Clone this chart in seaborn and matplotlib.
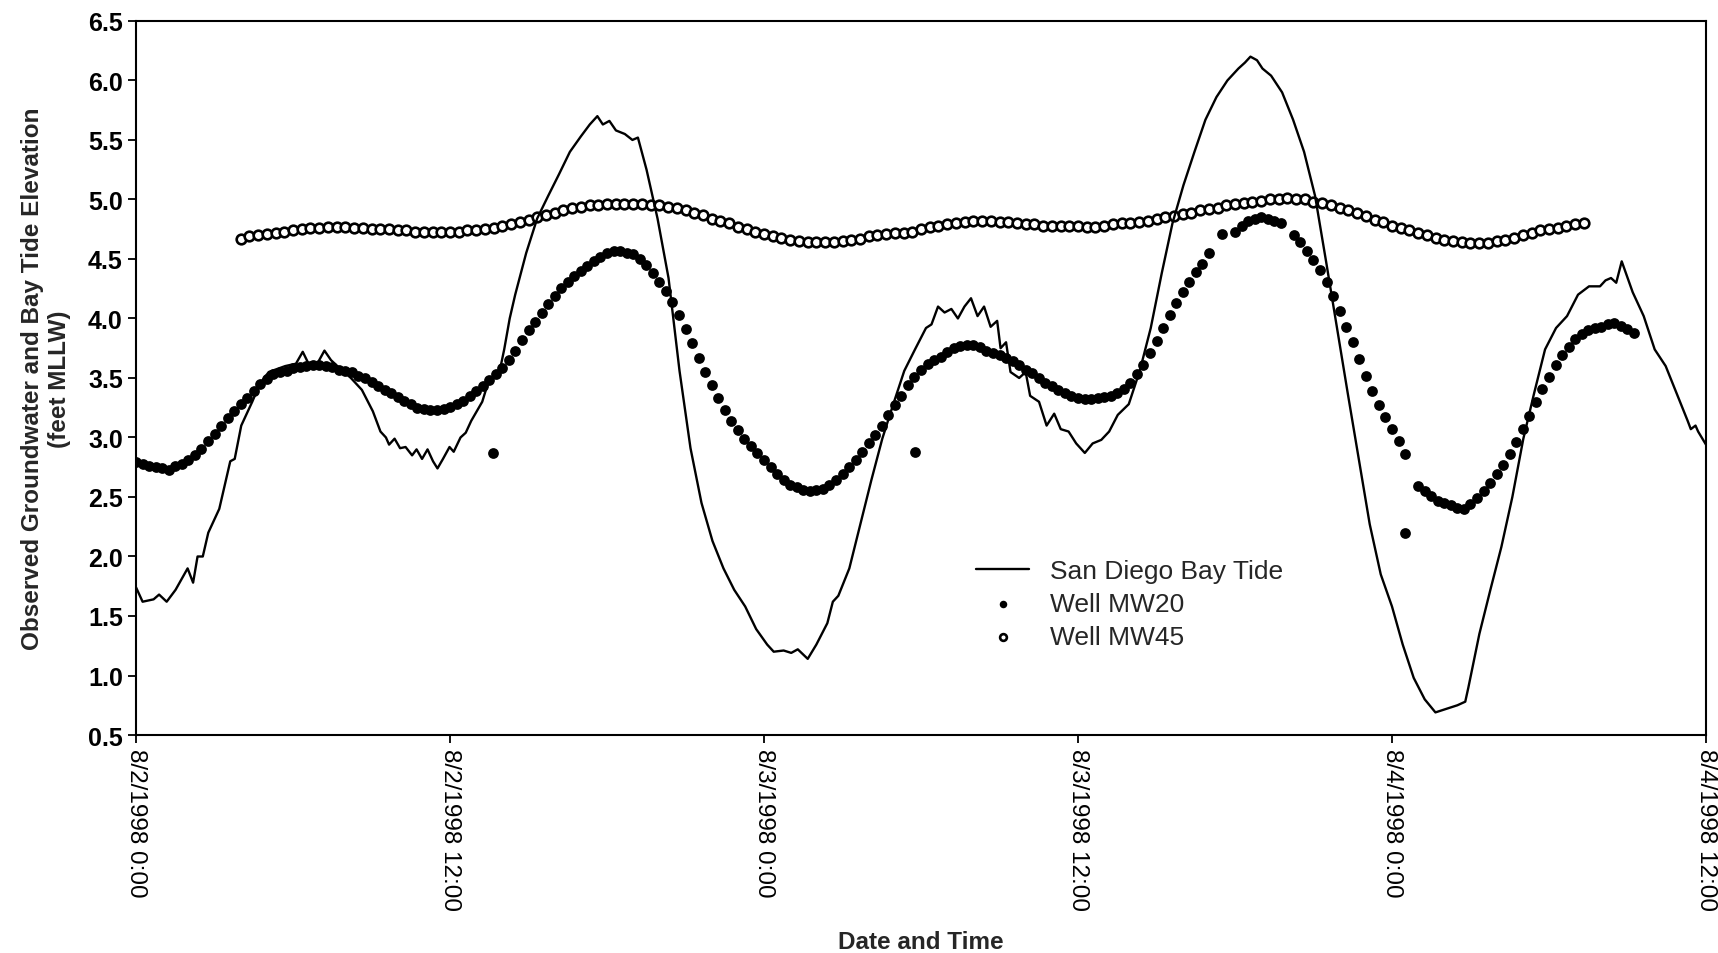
import numpy as np
import pandas as pd
import seaborn as sns
import matplotlib.pyplot as plt

sns.set_style('ticks')
plt.rcParams['font.family'] = ['Liberation Sans', 'DejaVu Sans']

tick_hours = [0, 12, 24, 36, 48, 60]
tick_labels = ['8/2/1998 0:00', '8/2/1998 12:00', '8/3/1998 0:00',
               '8/3/1998 12:00', '8/4/1998 0:00', '8/4/1998 12:00']

# San Diego Bay tide (hours after 8/2/1998 0:00, feet MLLW)
tide_hours = [0, 0.25, 0.67, 0.88, 1.17, 1.51, 1.84, 1.97, 2.18, 2.35,
              2.55, 2.76, 3.18, 3.39, 3.60, 3.77, 4.02, 4.23, 4.44, 4.73,
              5.07, 5.70, 6.11, 6.37, 6.57, 6.95, 7.20, 7.45, 7.79, 8.21,
              8.63, 9.05, 9.34, 9.55, 9.67, 9.88, 10.09, 10.30, 10.55, 10.72,
              10.93, 11.14, 11.35, 11.52, 11.73, 11.98, 12.14, 12.40, 12.60, 12.81,
              13.23, 13.44, 13.65, 13.86, 14.07, 14.28, 14.49, 14.91, 15.33, 15.75,
              16.16, 16.58, 17.00, 17.34, 17.63, 17.84, 18.09, 18.34, 18.68, 18.97,
              19.18, 19.51, 19.93, 20.35, 20.77, 21.19, 21.61, 22.03, 22.45, 22.86,
              23.28, 23.70, 24.12, 24.37, 24.75, 25.04, 25.29, 25.67, 26.00, 26.42,
              26.63, 26.84, 27.26, 27.68, 28.10, 28.52, 28.94, 29.36, 29.77, 30.19,
              30.40, 30.65, 30.90, 31.16, 31.41, 31.66, 31.91, 32.16, 32.41, 32.66,
              32.91, 33.04, 33.25, 33.42, 33.75, 34.00, 34.17, 34.51, 34.80, 35.09,
              35.34, 35.64, 35.93, 36.26, 36.56, 36.89, 37.19, 37.52, 37.94, 38.36,
              38.78, 39.20, 39.61, 40.03, 40.45, 40.87, 41.29, 41.71, 42.13, 42.38,
              42.59, 42.84, 43.05, 43.38, 43.80, 44.22, 44.64, 45.06, 45.48, 45.90,
              46.31, 46.73, 47.15, 47.57, 48.00, 48.41, 48.83, 49.25, 49.66, 50.08,
              50.50, 50.80, 50.92, 51.34, 51.76, 52.18, 52.60, 53.02, 53.43, 53.85,
              54.27, 54.69, 55.11, 55.53, 55.95, 56.16, 56.37, 56.57, 56.78, 57.20,
              57.62, 58.04, 58.46, 58.88, 59.30, 59.42, 59.60, 59.70, 60.00]
tide_feet = [1.74, 1.62, 1.64, 1.68, 1.62, 1.72, 1.85, 1.90, 1.78, 2.00,
             2.00, 2.20, 2.40, 2.60, 2.80, 2.82, 3.10, 3.20, 3.30, 3.45,
             3.55, 3.60, 3.62, 3.72, 3.63, 3.63, 3.73, 3.65, 3.58, 3.50,
             3.40, 3.22, 3.05, 3.00, 2.94, 2.99, 2.91, 2.92, 2.85, 2.90,
             2.82, 2.90, 2.80, 2.74, 2.82, 2.92, 2.88, 3.00, 3.04, 3.14,
             3.30, 3.45, 3.50, 3.52, 3.74, 4.00, 4.20, 4.55, 4.84, 5.03,
             5.21, 5.40, 5.53, 5.63, 5.70, 5.63, 5.66, 5.58, 5.55, 5.50,
             5.52, 5.25, 4.84, 4.34, 3.56, 2.91, 2.45, 2.13, 1.90, 1.72,
             1.58, 1.39, 1.26, 1.20, 1.21, 1.19, 1.22, 1.14, 1.26, 1.44,
             1.62, 1.67, 1.90, 2.27, 2.64, 2.99, 3.28, 3.56, 3.74, 3.92,
             3.95, 4.10, 4.05, 4.08, 4.00, 4.10, 4.17, 4.02, 4.10, 3.93,
             3.98, 3.75, 3.80, 3.55, 3.50, 3.55, 3.35, 3.30, 3.10, 3.20,
             3.07, 3.05, 2.95, 2.87, 2.95, 2.98, 3.05, 3.19, 3.28, 3.56,
             3.92, 4.38, 4.80, 5.12, 5.40, 5.67, 5.86, 6.00, 6.10, 6.15,
             6.20, 6.17, 6.10, 6.04, 5.90, 5.67, 5.40, 5.03, 4.48, 3.92,
             3.37, 2.82, 2.27, 1.85, 1.58, 1.26, 0.98, 0.80, 0.69, 0.72,
             0.75, 0.78, 0.90, 1.35, 1.72, 2.08, 2.50, 2.99, 3.37, 3.74,
             3.92, 4.02, 4.20, 4.27, 4.27, 4.32, 4.34, 4.30, 4.48, 4.22,
             4.02, 3.74, 3.60, 3.37, 3.14, 3.07, 3.10, 3.05, 2.94]

# Well MW20, one reading every 15 min from 8/2 0:00 (one row per hour, nan = no reading)
mw20_feet = [
    2.79, 2.78, 2.76, 2.75,  2.74, 2.73, 2.76, 2.78,  2.81, 2.85, 2.90, 2.97,
    3.03, 3.10, 3.16, 3.22,  3.28, 3.33, 3.39, 3.45,  3.49, 3.53, 3.55, 3.56,
    3.58, 3.59, 3.60, 3.61,  3.61, 3.60, 3.59, 3.57,  3.56, 3.55, 3.52, 3.50,
    3.47, 3.43, 3.40, 3.37,  3.34, 3.31, 3.28, 3.25,  3.24, 3.23, 3.23, 3.24,
    3.26, 3.28, 3.31, 3.35,  3.39, 3.43, 3.48, 3.53,  3.58, 3.65, 3.73, 3.82,
    3.90, 3.97, 4.05, 4.12,  4.19, 4.26, 4.31, 4.36,  4.40, 4.44, 4.48, 4.52,
    4.55, 4.57, 4.57, 4.55,  4.54, 4.50, 4.45, 4.38,  4.31, 4.23, 4.14, 4.03,
    3.91, 3.79, 3.67, 3.55,  3.44, 3.33, 3.23, 3.14,  3.06, 2.99, 2.93, 2.87,
    2.81, 2.75, 2.69, 2.64,  2.60, 2.58, 2.56, 2.55,  2.56, 2.57, 2.60, 2.64,
    2.69, 2.75, 2.81, 2.88,  2.95, 3.02, 3.10, 3.19,  3.27, 3.35, 3.44, 3.51,
    3.57, 3.62, 3.65, 3.68,  3.72, 3.75, 3.77, 3.78,  3.78, 3.76, 3.73, 3.71,
    3.69, 3.67, 3.64, 3.61,  3.57, 3.54, 3.50, 3.46,  3.43, 3.40, 3.37, 3.35,
    3.33, 3.32, 3.32, 3.33,  3.34, 3.35, 3.37, 3.41,  3.46, 3.53, 3.61, 3.71,
    3.81, 3.92, 4.03, 4.13,  4.22, 4.31, 4.39, 4.46,  4.55, np.nan, 4.71, np.nan,
    4.73, 4.78, 4.82, 4.84,  4.85, 4.84, 4.82, 4.80,  np.nan, 4.70, 4.64, 4.57,
    4.49, 4.41, 4.31, 4.19,  4.06, 3.93, 3.80, 3.66,  3.52, 3.39, 3.27, 3.17,
    3.07, 2.97, 2.86, np.nan,  2.59, 2.55, 2.51, 2.47,  2.45, 2.43, 2.41, 2.40,
    2.44, 2.49, 2.55, 2.62,  2.69, 2.77, 2.86, 2.96,  3.07, 3.18, 3.30, 3.41,
    3.51, 3.61, 3.69, 3.76,  3.83, 3.87, 3.90, 3.92,  3.93, 3.95, 3.96, 3.94,
    3.91, 3.88]
# stray MW20 readings that sit off the main curve
mw20_stray_hours = [13.65, 29.77, 48.50]
mw20_stray_feet = [2.87, 2.88, 2.20]

# Well MW45, one reading every 20 min from 8/2 4:00
mw45_feet = [
    4.67, 4.69, 4.70,  4.71, 4.72, 4.73,  4.74, 4.75, 4.76,  4.76, 4.77, 4.77,
    4.77, 4.76, 4.76,  4.75, 4.75, 4.75,  4.74, 4.74, 4.73,  4.73, 4.73, 4.73,
    4.73, 4.73, 4.74,  4.74, 4.75, 4.76,  4.78, 4.79, 4.81,  4.83, 4.85, 4.87,
    4.89, 4.91, 4.93,  4.94, 4.95, 4.95,  4.96, 4.96, 4.96,  4.96, 4.96, 4.95,
    4.95, 4.94, 4.93,  4.91, 4.89, 4.87,  4.84, 4.82, 4.80,  4.77, 4.75, 4.73,
    4.71, 4.69, 4.68,  4.66, 4.65, 4.64,  4.64, 4.64, 4.64,  4.65, 4.66, 4.67,
    4.69, 4.70, 4.71,  4.72, 4.72, 4.73,  4.75, 4.77, 4.78,  4.79, 4.80, 4.81,
    4.82, 4.82, 4.82,  4.81, 4.81, 4.80,  4.79, 4.79, 4.78,  4.78, 4.78, 4.78,
    4.78, 4.77, 4.77,  4.78, 4.79, 4.80,  4.80, 4.81, 4.82,  4.84, 4.85, 4.86,
    4.88, 4.89, 4.91,  4.92, 4.93, 4.95,  4.96, 4.97, 4.98,  4.99, 5.00, 5.00,
    5.01, 5.00, 5.00,  4.98, 4.97, 4.95,  4.93, 4.91, 4.89,  4.86, 4.83, 4.81,
    4.78, 4.76, 4.74,  4.72, 4.70, 4.68,  4.66, 4.65, 4.64,  4.63, 4.63, 4.63,
    4.65, 4.66, 4.68,  4.70, 4.72, 4.74,  4.75, 4.76, 4.78,  4.79, 4.80]

tide = pd.DataFrame({'hour': tide_hours, 'feet': tide_feet})
mw20 = pd.DataFrame({'hour': np.arange(len(mw20_feet)) * 0.25, 'feet': mw20_feet})
mw20 = pd.concat([mw20, pd.DataFrame({'hour': mw20_stray_hours, 'feet': mw20_stray_feet})],
                 ignore_index=True)
mw45 = pd.DataFrame({'hour': 4 + np.arange(len(mw45_feet)) / 3, 'feet': mw45_feet})

fig = plt.figure(figsize=(17.18, 9.54), dpi=100)
ax = fig.add_axes([0.0792, 0.2285, 0.9138, 0.7485])

sns.lineplot(data=tide, x='hour', y='feet', color='black', linewidth=1.7,
             label='San Diego Bay Tide', ax=ax)
sns.scatterplot(data=mw20, x='hour', y='feet', color='black', s=60,
                linewidth=0, label='Well MW20', ax=ax)
sns.scatterplot(data=mw45, x='hour', y='feet', facecolor='white',
                edgecolor='black', linewidth=1.9, s=48, label='Well MW45', ax=ax)

ax.set_xlim(0, 60)
ax.set_ylim(0.5, 6.5)
ax.set_yticks(np.arange(0.5, 6.51, 0.5))
ax.set_yticklabels([f'{v:.1f}' for v in np.arange(0.5, 6.51, 0.5)],
                   fontsize=18, fontweight='bold')
ax.set_xticks(tick_hours)
ax.set_xticklabels(tick_labels, rotation=-90, fontsize=17.5)
ax.tick_params(axis='both', direction='out', length=6, width=1.3, colors='black')

for side in ['left', 'bottom', 'top', 'right']:
    ax.spines[side].set_visible(True)
    ax.spines[side].set_color('black')
    ax.spines[side].set_linewidth(1.5)

ax.set_xlabel('Date and Time', fontsize=17.5, fontweight='bold', labelpad=14)
ax.set_ylabel('Observed Groundwater and Bay Tide Elevation\n(feet MLLW)',
              fontsize=17.5, fontweight='bold', labelpad=12, linespacing=1.25)

leg = ax.legend(loc='upper left', bbox_to_anchor=(0.52, 0.28), frameon=False,
                fontsize=19, handlelength=2.0, labelspacing=0.35, markerscale=0.7)

plt.savefig('out.png', dpi=100)
